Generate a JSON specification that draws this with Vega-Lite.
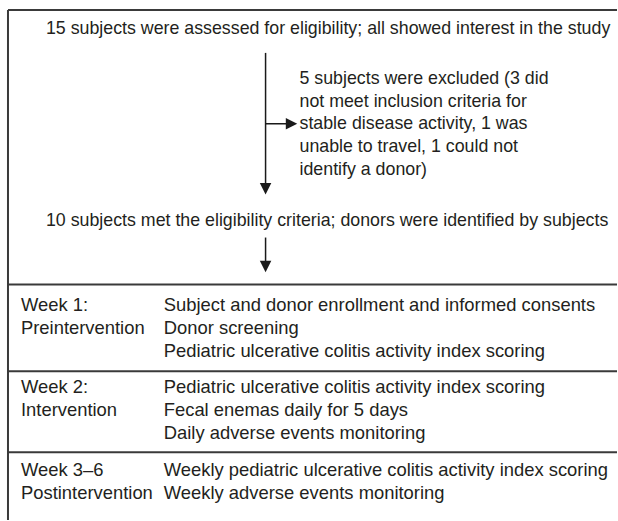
{
  "$schema": "https://vega.github.io/schema/vega-lite/v6.json",
  "width": 618,
  "height": 521,
  "autosize": {"type": "fit", "contains": "padding"},
  "padding": 0,
  "background": "white",
  "config": {"view": {"stroke": null}},
  "datasets": {
    "frame": [
      {"x": 8, "y": 10, "x2": 618, "y2": 10},
      {"x": 8, "y": 10, "x2": 8, "y2": 521},
      {"x": 8, "y": 285, "x2": 618, "y2": 285},
      {"x": 8, "y": 372, "x2": 618, "y2": 372},
      {"x": 8, "y": 453, "x2": 618, "y2": 453}
    ],
    "arrows": [
      {"x": 266, "y": 53, "x2": 266, "y2": 186},
      {"x": 266, "y": 124, "x2": 288, "y2": 124},
      {"x": 266, "y": 238, "x2": 266, "y2": 264}
    ],
    "headsDown": [
      {"x": 266, "y": 189},
      {"x": 266, "y": 267}
    ],
    "headsRight": [
      {"x": 292, "y": 124}
    ],
    "flowTexts": [
      {"x": 46, "y": 29, "text": "15 subjects were assessed for eligibility; all showed interest in the study"},
      {"x": 300, "y": 79, "text": "5 subjects were excluded (3 did"},
      {"x": 300, "y": 102, "text": "not meet inclusion criteria for"},
      {"x": 300, "y": 124, "text": "stable disease activity, 1 was"},
      {"x": 300, "y": 147, "text": "unable to travel, 1 could not"},
      {"x": 300, "y": 170, "text": "identify a donor)"},
      {"x": 46, "y": 221, "text": "10 subjects met the eligibility criteria; donors were identified by subjects"}
    ],
    "tableTexts": [
      {"x": 21, "y": 306, "text": "Week 1:"},
      {"x": 21, "y": 329, "text": "Preintervention"},
      {"x": 164, "y": 306, "text": "Subject and donor enrollment and informed consents"},
      {"x": 164, "y": 329, "text": "Donor screening"},
      {"x": 164, "y": 352, "text": "Pediatric ulcerative colitis activity index scoring"},
      {"x": 21, "y": 388, "text": "Week 2:"},
      {"x": 21, "y": 411, "text": "Intervention"},
      {"x": 164, "y": 388, "text": "Pediatric ulcerative colitis activity index scoring"},
      {"x": 164, "y": 411, "text": "Fecal enemas daily for 5 days"},
      {"x": 164, "y": 434, "text": "Daily adverse events monitoring"},
      {"x": 21, "y": 471, "text": "Week 3\u20136"},
      {"x": 21, "y": 494, "text": "Postintervention"},
      {"x": 164, "y": 471, "text": "Weekly pediatric ulcerative colitis activity index scoring"},
      {"x": 164, "y": 494, "text": "Weekly adverse events monitoring"}
    ]
  },
  "layer": [
    {
      "data": {"name": "frame"},
      "mark": {"type": "rule", "color": "#3a3a3a", "strokeWidth": 2},
      "encoding": {
        "x": {"field": "x", "type": "quantitative", "scale": {"domain": [0, 618], "nice": false, "zero": false}, "axis": null},
        "y": {"field": "y", "type": "quantitative", "scale": {"domain": [0, 521], "nice": false, "zero": false, "reverse": true}, "axis": null},
        "x2": {"field": "x2"},
        "y2": {"field": "y2"}
      }
    },
    {
      "data": {"name": "arrows"},
      "mark": {"type": "rule", "color": "#1a1a1a", "strokeWidth": 1.5},
      "encoding": {
        "x": {"field": "x", "type": "quantitative", "axis": null},
        "y": {"field": "y", "type": "quantitative", "axis": null},
        "x2": {"field": "x2"},
        "y2": {"field": "y2"}
      }
    },
    {
      "data": {"name": "headsDown"},
      "mark": {"type": "point", "shape": "M-1,-1L1,-1L0,1Z", "filled": true, "size": 132, "color": "#1a1a1a", "opacity": 1},
      "encoding": {
        "x": {"field": "x", "type": "quantitative", "axis": null},
        "y": {"field": "y", "type": "quantitative", "axis": null}
      }
    },
    {
      "data": {"name": "headsRight"},
      "mark": {"type": "point", "shape": "M-1,-1L1,0L-1,1Z", "filled": true, "size": 132, "color": "#1a1a1a", "opacity": 1},
      "encoding": {
        "x": {"field": "x", "type": "quantitative", "axis": null},
        "y": {"field": "y", "type": "quantitative", "axis": null}
      }
    },
    {
      "data": {"name": "flowTexts"},
      "mark": {"type": "text", "align": "left", "baseline": "middle", "font": "Liberation Sans", "fontSize": 17.8, "color": "#231f20"},
      "encoding": {
        "x": {"field": "x", "type": "quantitative", "axis": null},
        "y": {"field": "y", "type": "quantitative", "axis": null},
        "text": {"field": "text"}
      }
    },
    {
      "data": {"name": "tableTexts"},
      "mark": {"type": "text", "align": "left", "baseline": "middle", "font": "Liberation Sans", "fontSize": 18.4, "color": "#231f20"},
      "encoding": {
        "x": {"field": "x", "type": "quantitative", "axis": null},
        "y": {"field": "y", "type": "quantitative", "axis": null},
        "text": {"field": "text"}
      }
    }
  ]
}
